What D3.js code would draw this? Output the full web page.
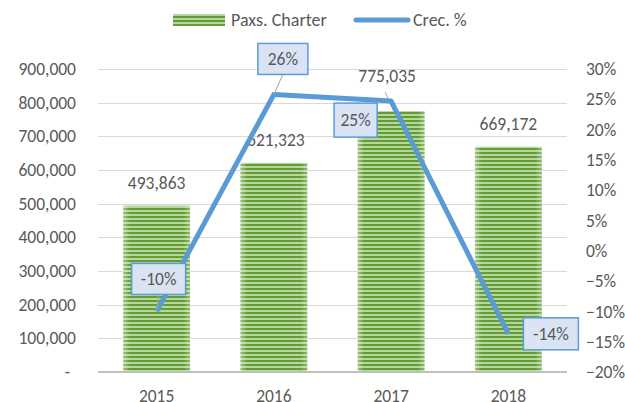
<!DOCTYPE html>
<html>
<head>
<meta charset="utf-8">
<script src="https://cdn.jsdelivr.net/npm/d3@7"></script>
<style>
  body { margin: 0; background: #fff; }
  text { font-family: Calibri, Carlito, Lato, sans-serif; fill: #595959; }
</style>
</head>
<body>
<svg width="625" height="402"></svg>
<script>
const years = ['2015', '2016', '2017', '2018'];
const paxs = [493863, 621323, 775035, 669172];
const crec = [-0.10, 0.258, 0.247, -0.137];
const crecLabels = ['-10%', '26%', '25%', '-14%'];
const leftTicks = [0, 100000, 200000, 300000, 400000, 500000, 600000, 700000, 800000, 900000];
const rightTicks = [-0.2, -0.15, -0.1, -0.05, 0, 0.05, 0.1, 0.15, 0.2, 0.25, 0.3];

const plot = {left: 98, right: 567, top: 69, bottom: 372};
const FS = 17.5;

const svg = d3.select('svg');

// stripe pattern for the bars
const defs = svg.append('defs');
const pat = defs.append('pattern')
    .attr('id', 'stripes')
    .attr('patternUnits', 'userSpaceOnUse')
    .attr('width', 8).attr('height', 4);
pat.append('rect').attr('width', 8).attr('height', 4).attr('fill', '#b6d69c');
pat.append('rect').attr('width', 8).attr('height', 2).attr('y', 0).attr('fill', '#629c34');

const edge = defs.append('linearGradient').attr('id', 'edge');
edge.append('stop').attr('offset', '0').attr('stop-color', '#fff').attr('stop-opacity', 0.4);
edge.append('stop').attr('offset', '0.1').attr('stop-color', '#fff').attr('stop-opacity', 0);
edge.append('stop').attr('offset', '0.9').attr('stop-color', '#fff').attr('stop-opacity', 0);
edge.append('stop').attr('offset', '1').attr('stop-color', '#fff').attr('stop-opacity', 0.3);

const x = d3.scaleBand().domain(years).range([plot.left, plot.right]).paddingInner(0.43).paddingOuter(0.215);
const yL = d3.scaleLinear().domain([0, 900000]).range([plot.bottom, plot.top]);
const yR = d3.scaleLinear().domain([-0.2, 0.3]).range([plot.bottom, plot.top]);

// gridlines
svg.append('g')
    .selectAll('line')
    .data(leftTicks.filter(d => d > 0))
    .join('line')
    .attr('x1', plot.left).attr('x2', plot.right)
    .attr('y1', d => Math.round(yL(d)) + 0.5).attr('y2', d => Math.round(yL(d)) + 0.5)
    .attr('stroke', '#d9d9d9').attr('stroke-width', 1);

// left axis
const fmtL = d => d === 0 ? '-' : d3.format(',')(d);
const axL = svg.append('g')
    .attr('transform', `translate(${plot.left - 22},0)`)
    .call(d3.axisLeft(yL).tickValues(leftTicks).tickFormat(fmtL).tickSize(0).tickPadding(0));
axL.select('.domain').remove();
axL.selectAll('text').attr('font-size', FS).style('font-family', null).attr('fill', '#595959')
    .attr('dx', d => d === 0 ? -6 : 0);

// right axis
const axR = svg.append('g')
    .attr('transform', `translate(${plot.right + 19},0)`)
    .call(d3.axisRight(yR).tickValues(rightTicks).tickFormat(d3.format('.0%')).tickSize(0).tickPadding(0));
axR.select('.domain').remove();
axR.selectAll('text').attr('font-size', FS).style('font-family', null).attr('fill', '#595959');

// bars
const bars = svg.append('g');
bars.selectAll('rect.bar')
    .data(paxs)
    .join('rect')
    .attr('class', 'bar')
    .attr('x', (d, i) => x(years[i]))
    .attr('y', d => yL(d))
    .attr('width', x.bandwidth())
    .attr('height', d => yL(0) - yL(d))
    .attr('fill', 'url(#stripes)');
bars.selectAll('rect.edge')
    .data(paxs)
    .join('rect')
    .attr('class', 'edge')
    .attr('x', (d, i) => x(years[i]))
    .attr('y', d => yL(d))
    .attr('width', x.bandwidth())
    .attr('height', d => yL(0) - yL(d))
    .attr('fill', 'url(#edge)');

// x axis
svg.append('line')
    .attr('x1', plot.left).attr('x2', plot.right)
    .attr('y1', plot.bottom).attr('y2', plot.bottom)
    .attr('stroke', '#bfbfbf').attr('stroke-width', 2);
svg.append('g')
    .selectAll('text')
    .data(years)
    .join('text')
    .attr('x', d => x(d) + x.bandwidth() / 2)
    .attr('y', 402)
    .attr('text-anchor', 'middle')
    .attr('font-size', FS)
    .text(d => d);

// bar value labels (2017 was dragged up in the original)
const labelShift = [[0, 0], [2, 0], [-4, -12], [0, 0]];
const cx = i => x(years[i]) + x.bandwidth() / 2;
svg.append('g')
    .selectAll('text')
    .data(paxs)
    .join('text')
    .attr('x', (d, i) => cx(i) + labelShift[i][0])
    .attr('y', (d, i) => yL(d) - 17 + labelShift[i][1])
    .attr('text-anchor', 'middle')
    .attr('font-size', FS)
    .attr('fill', '#404040')
    .text(d => d3.format(',')(d));
// leader line for 775,035
svg.append('line')
    .attr('x1', cx(2) - 6).attr('y1', yL(paxs[2]) - 19)
    .attr('x2', cx(2) + 2).attr('y2', yL(paxs[2]) - 1)
    .attr('stroke', '#a6a6a6').attr('stroke-width', 1);

// growth line
const line = d3.line()
    .x((d, i) => cx(i))
    .y(d => yR(d));
svg.append('path')
    .datum(crec)
    .attr('d', line)
    .attr('fill', 'none')
    .attr('stroke', '#5b9bd5')
    .attr('stroke-width', 5)
    .attr('stroke-linejoin', 'round');

// growth labels in boxes, with leader lines
const boxPos = [[-25, -48, 54, 31], [-16, -51, 50, 31], [-57, 2, 43, 34], [15, -16, 55, 32]];
const leaders = [true, true, false, false];
crec.forEach((v, i) => {
    const px = cx(i), py = yR(v);
    const b = boxPos[i];
    if (leaders[i]) {
        svg.append('line')
            .attr('x1', px).attr('y1', py)
            .attr('x2', px + b[0] + b[2] / 2).attr('y2', py + b[1] + b[3])
            .attr('stroke', '#a6a6a6').attr('stroke-width', 1);
    }
    svg.append('rect')
        .attr('x', px + b[0]).attr('y', py + b[1])
        .attr('width', b[2]).attr('height', b[3])
        .attr('fill', '#dae3f3')
        .attr('stroke', '#5b9bd5')
        .attr('stroke-width', 1.5);
    svg.append('text')
        .attr('x', px + b[0] + b[2] / 2)
        .attr('y', py + b[1] + b[3] / 2 + 6)
        .attr('text-anchor', 'middle')
        .attr('font-size', FS)
        .attr('fill', '#404040')
        .text(crecLabels[i]);
});

// legend
const lg = svg.append('g');
lg.append('rect').attr('x', 173).attr('y', 14).attr('width', 52).attr('height', 12).attr('fill', 'url(#stripes)');
lg.append('text').attr('x', 231).attr('y', 26).attr('font-size', 18).text('Paxs. Charter');
lg.append('line').attr('x1', 356).attr('x2', 408).attr('y1', 20).attr('y2', 20)
    .attr('stroke', '#5b9bd5').attr('stroke-width', 5).attr('stroke-linecap', 'round');
lg.append('text').attr('x', 413).attr('y', 26).attr('font-size', 18).text('Crec. %');
</script>
</body>
</html>
